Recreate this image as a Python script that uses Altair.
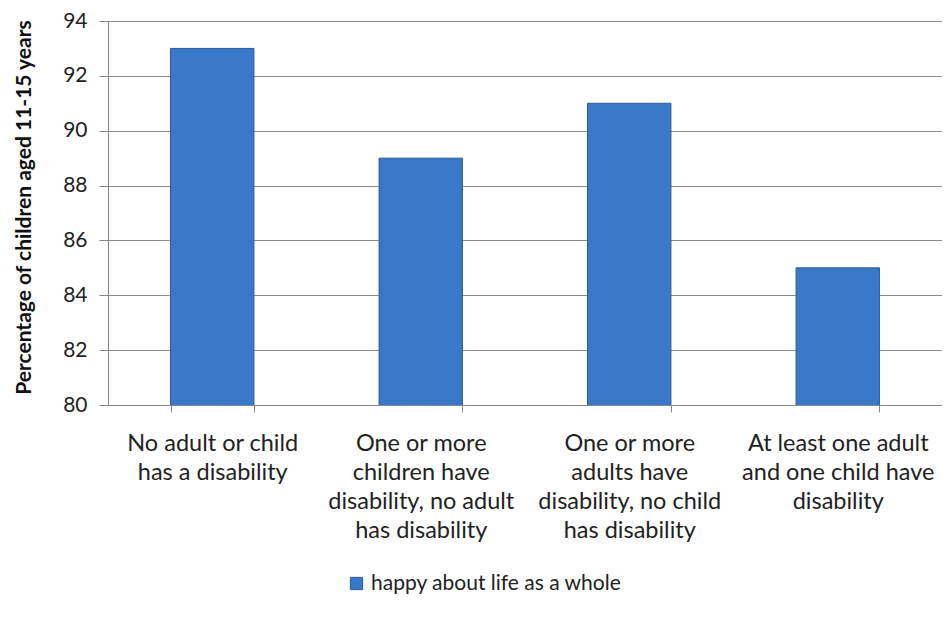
import altair as alt
import pandas as pd

categories = [
    "No adult or child\nhas a disability",
    "One or more\nchildren have\ndisability, no adult\nhas disability",
    "One or more\nadults have\ndisability, no child\nhas disability",
    "At least one adult\nand one child have\ndisability",
]
values = [93, 89, 91, 85]
series = "happy about life as a whole"
y_ticks = [80, 82, 84, 86, 88, 90, 92, 94]

df = pd.DataFrame({"cat": categories, "value": values, "series": [series] * len(values)})

FONT = "Lato"

chart = alt.Chart(df).mark_bar(
    stroke="#2B5C9E", strokeWidth=1, clip=True
).encode(
    x=alt.X("cat:N", sort=categories, title=None,
            scale=alt.Scale(paddingInner=0.6, paddingOuter=0.3),
            axis=alt.Axis(labelAngle=0, labelExpr="split(datum.label, '\\n')",
                          labelFontSize=23.5, labelFont=FONT, labelColor="#222",
                          labelLineHeight=29, labelPadding=19, labelLimit=300,
                          tickBand="extent", tickSize=7, tickColor="#888",
                          domainColor="#888", labelBaseline="top")),
    y=alt.Y("value:Q", title="Percentage of children aged 11-15 years",
            scale=alt.Scale(domain=[80, 94], nice=False, zero=False),
            axis=alt.Axis(values=y_ticks, grid=True, gridColor="#8c8c8c",
                          labelFontSize=21, labelFont=FONT, labelColor="#222",
                          labelPadding=12, tickSize=9, tickColor="#888",
                          domainColor="#888",
                          titleFont=FONT, titleFontSize=21, titleFontWeight="bold",
                          titleColor="#111", titlePadding=28, titleY=186)),
    color=alt.Color("series:N", scale=alt.Scale(range=["#3A78C9"]),
                    legend=alt.Legend(title=None, orient="none", legendX=238, legendY=552,
                                      symbolType="square", symbolSize=150,
                                      symbolStrokeColor="#2B5C9E", symbolStrokeWidth=1,
                                      labelFont=FONT, labelFontSize=21, labelColor="#222",
                                      labelLimit=400)),
).properties(
    width=834, height=384,
    autosize=alt.AutoSizeParams(type="none"),
    padding={"left": 100, "top": 13, "right": 0, "bottom": 205},
).configure_view(stroke=None)

chart.save("out.html", embed_options={"renderer": "svg", "actions": False})
